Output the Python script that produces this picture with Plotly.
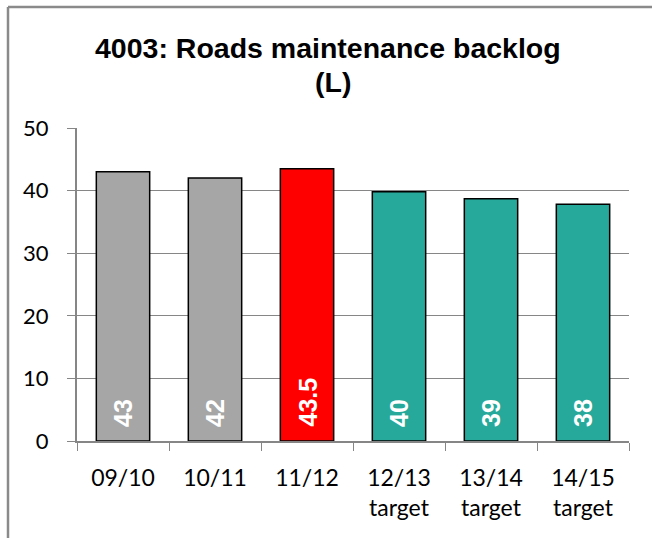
import plotly.graph_objects as go

categories = ["09/10", "10/11", "11/12", "12/13<br>target", "13/14<br>target", "14/15<br>target"]
values = [43, 42, 43.5, 39.8, 38.7, 37.8]
value_labels = ["43", "42", "43.5", "40", "39", "38"]
bar_colors = ["#A6A6A6", "#A6A6A6", "#FF0000", "#26A99B", "#26A99B", "#26A99B"]
y_ticks = [0, 10, 20, 30, 40, 50]

W, H = 652, 538
ml, mr, mt, mb = 77, 23, 128, 97
pw, ph = W - ml - mr, H - mt - mb

fig = go.Figure()
fig.add_trace(go.Bar(
    x=categories, y=values,
    marker=dict(color=bar_colors, line=dict(color="#000000", width=1.5)),
    hoverinfo="skip",
))

for c, lab in zip(categories, value_labels):
    fig.add_annotation(
        x=c, y=0, xref="x", yref="y", text="<b>%s</b>" % lab, showarrow=False,
        textangle=-90, yanchor="bottom", xanchor="center", yshift=12,
        font=dict(family="Liberation Sans", size=25, color="white"),
    )

# title lines
fig.add_annotation(
    x=(328 - ml) / pw, y=(H - mb - 30) / ph, xref="paper", yref="paper",
    text="<b>4003: Roads maintenance backlog</b>",
    showarrow=False, xanchor="center", yanchor="top",
    font=dict(family="Liberation Sans", size=28.5, color="#000000"),
)
fig.add_annotation(
    x=(333 - ml) / pw, y=(H - mb - 64) / ph, xref="paper", yref="paper", text="<b>(L)</b>",
    showarrow=False, xanchor="center", yanchor="top",
    font=dict(family="Liberation Sans", size=28.5, color="#000000"),
)

# outer frame (left and top)
fx = (8 - ml) / pw
fy = (H - mb - 7) / ph
fig.add_shape(type="line", xref="paper", yref="paper", x0=fx, x1=fx, y0=-1, y1=fy,
              line=dict(color="#8A8A8A", width=2.5))
fig.add_shape(type="line", xref="paper", yref="paper", x0=fx, x1=1.2, y0=fy, y1=fy,
              line=dict(color="#8A8A8A", width=2.5))

fig.update_layout(
    width=W, height=H,
    margin=dict(l=ml, r=mr, t=mt, b=mb, pad=0),
    paper_bgcolor="white", plot_bgcolor="white",
    bargap=0.42, showlegend=False,
    xaxis=dict(
        type="category", tickson="boundaries", ticks="outside", ticklen=8, tickwidth=1.3,
        tickcolor="#868686", showline=True, linecolor="#868686", linewidth=1.5,
        showgrid=False, tickfont=dict(family="Lato", size=23, color="#000000"),
        ticklabelstandoff=16,
    ),
    yaxis=dict(
        range=[0, 50], tickvals=y_ticks, ticks="outside", ticklen=8, tickwidth=1.3,
        tickcolor="#868686", showline=True, linecolor="#868686", linewidth=2,
        showgrid=True, gridcolor="#868686", gridwidth=1.3, zeroline=False,
        tickfont=dict(family="Lato", size=22, color="#000000"),
        ticklabelstandoff=14,
    ),
)

fig.write_html("out.html", config={"displayModeBar": False},
               post_script="document.body.style.margin='0px';")
